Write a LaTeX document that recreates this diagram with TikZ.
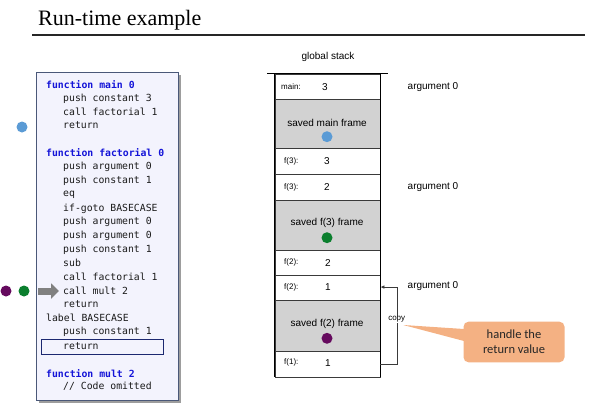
\documentclass[tikz,border=0pt]{standalone}
\usepackage{fontspec}
\setmainfont{Liberation Serif}
\setsansfont{Liberation Sans}
\setmonofont{DejaVu Sans Mono}
\newfontfamily\calloutfont{Carlito}
\usetikzlibrary{arrows.meta,shadows}
\definecolor{codebg}{HTML}{F3F3FD}
\definecolor{codeframe}{HTML}{4A5878}
\definecolor{codetext}{HTML}{1A1A1A}
\definecolor{kwblue}{HTML}{1414D8}
\definecolor{navybox}{HTML}{1C2870}
\definecolor{savedgray}{HTML}{D2D2D2}
\definecolor{rowline}{HTML}{3A3A3A}
\definecolor{dotblue}{HTML}{5B9BD5}
\definecolor{dotgreen}{HTML}{0B7F2E}
\definecolor{dotpurple}{HTML}{650A5E}
\definecolor{calloutfill}{HTML}{F4B183}
\definecolor{arrowgray}{HTML}{808080}
\begin{document}
\begin{tikzpicture}[x=1pt,y=-1pt,
  code/.style={anchor=west,inner sep=0pt,text=codetext,
    font=\ttfamily\fontsize{9.8}{11}\selectfont},
  kw/.style={code,text=kwblue,font=\ttfamily\bfseries\fontsize{9.8}{11}\selectfont},
  cell/.style={draw=rowline,line width=0.7pt,fill=white,minimum width=105pt,
    inner sep=0pt,anchor=north},
  savedcell/.style={cell,fill=savedgray},
  rowlab/.style={anchor=west,inner sep=0pt,font=\sffamily\fontsize{8}{9}\selectfont},
  rowval/.style={inner sep=0pt,font=\sffamily\fontsize{10}{12}\selectfont},
  sans/.style={inner sep=0pt,font=\sffamily\fontsize{10}{12}\selectfont},
  dot/.style={circle,inner sep=0pt,minimum size=11pt},
  wall/.style={line width=1.5pt,black}]
\useasboundingbox (0,0) rectangle (592,416);

% title and rule
\node[anchor=base west,inner sep=0pt,font=\fontsize{22}{26}\selectfont] (title) at (38,25) {Run-time example};
\draw[line width=1.3pt,black!85] (32,35) coordinate (ruleL) -- (585,35) coordinate (ruleR);

% code listing
\node[draw=codeframe,line width=0.8pt,fill=codebg,minimum width=142pt,minimum height=328pt,
  anchor=north west,inner sep=0pt,
  drop shadow={shadow xshift=3pt,shadow yshift=-3pt,opacity=0.55,fill=black!70}] (listing) at (36,72) {};
\node[kw]   (l1)  at (46,85)    {function main 0};
\node[code] (l2)  at (63,98.4)  {push constant 3};
\node[code] (l3)  at (63,111.8) {call factorial 1};
\node[code] (l4)  at (63,125.3) {return};
\node[kw]   (l5)  at (46,152.8) {function factorial 0};
\node[code] (l6)  at (63,167.2) {push argument 0};
\node[code] (l7)  at (63,181)   {push constant 1};
\node[code] (l8)  at (63,194.8) {eq};
\node[code] (l9)  at (63,208.4) {if-goto BASECASE};
\node[code] (l10) at (63,221.9) {push argument 0};
\node[code] (l11) at (63,235.5) {push argument 0};
\node[code] (l12) at (63,249.3) {push constant 1};
\node[code] (l13) at (63,263.2) {sub};
\node[code] (l14) at (63,277.2) {call factorial 1};
\node[code] (l15) at (63,291)   {call mult 2};
\node[code] (l16) at (63,304.4) {return};
\node[code] (l17) at (46,317.8) {label BASECASE};
\node[code] (l18) at (63,332.2) {push constant 1};
\node[code] (l19) at (63,346)   {return};
\node[kw]   (l20) at (46,373.3) {function mult 2};
\node[code] (l21) at (63,386.7) {// Code omitted};
\node[draw=navybox,line width=1pt,minimum width=122pt,minimum height=15pt,inner sep=0pt,
  anchor=north west] (current) at (41,339) {};

% markers beside the listing
\node[dot,fill=dotblue] (mblue) at (22,127) {};
\node[dot,fill=dotpurple] (mpurple) at (6,291) {};
\node[dot,fill=dotgreen] (mgreen) at (24,291) {};
\coordinate (pc) at (38,291);
\draw[arrowgray,line width=7pt,-{Triangle[length=8pt,width=15pt]}] (pc) -- ([xshift=-4pt]l15.west);

% global stack
\node[sans] (gs) at (328,57) {global stack};
\node[cell,minimum height=25.8pt] (m) at (327.5,73.5) {};
\node[savedcell,minimum height=48.7pt] (sm) at (327.5,99.3) {};
\node[cell,minimum height=26pt] (f3a) at (327.5,148) {};
\node[cell,minimum height=26pt] (f3b) at (327.5,174) {};
\node[savedcell,minimum height=50pt] (sf3) at (327.5,200) {};
\node[cell,minimum height=25pt] (f2a) at (327.5,250) {};
\node[cell,minimum height=25pt] (f2b) at (327.5,275) {};
\node[savedcell,minimum height=51pt] (sf2) at (327.5,300) {};
\node[cell,minimum height=25.5pt] (f1) at (327.5,351) {};
\draw[wall] (m.north west) -- (f1.south west);
\draw[wall] (m.north east) -- (f1.south east);
\draw[line width=1.8pt] (267,73.5) coordinate (topL) -- (388,73.5) coordinate (topR);

\node[rowlab] (ml) at (281,86.6) {main:};
\node[rowval] (mv) at (325,86.6) {3};
\node[sans] (smt) at (327,122.7) {saved main frame};
\node[dot,fill=dotblue] (smd) at (327,136.7) {};
\node[rowlab] (f3al) at (284,161) {f(3):};
\node[rowval] (f3av) at (327,161) {3};
\node[rowlab] (f3bl) at (284,187) {f(3):};
\node[rowval] (f3bv) at (327,187) {2};
\node[sans] (sf3t) at (327,223) {saved f(3) frame};
\node[dot,fill=dotgreen] (sf3d) at (327,237.7) {};
\node[rowlab] (f2al) at (284,262.7) {f(2):};
\node[rowval] (f2av) at (328,262.7) {2};
\node[rowlab] (f2bl) at (284,287.5) {f(2):};
\node[rowval] (f2bv) at (328,287.5) {1};
\node[sans] (sf2t) at (327,324) {saved f(2) frame};
\node[dot,fill=dotpurple] (sf2d) at (327,338.3) {};
\node[rowlab] (f1l) at (284,362.8) {f(1):};
\node[rowval] (f1v) at (328,362.8) {1};

% argument labels
\node[sans,anchor=west] (a1) at (407.5,86.7) {argument 0};
\node[sans,anchor=west] (a2) at (407.5,186.7) {argument 0};
\node[sans,anchor=west] (a3) at (407.5,286.3) {argument 0};

% return value copied into the caller's argument slot
\draw[rowline,line width=0.7pt,-{Latex[length=4pt,width=3.5pt]}]
  ([yshift=-0.5pt]f1.east) -- ++(17,0) |- ([yshift=0.8pt]f2b.east);
\node[fill=white,inner sep=0.6pt,font=\sffamily\fontsize{8}{9}\selectfont] (copy) at (396.7,319.3) {copy};

% callout
\fill[calloutfill] (403.3,325) -- (464,329) -- (464,341) -- cycle;
\node[fill=calloutfill,rounded corners=5pt,minimum width=101pt,minimum height=40.6pt,
  inner sep=0pt,align=center,text=black!85,
  font=\calloutfont\fontsize{12.5}{15}\selectfont] (note) at (514,342) {handle the\\return value};
\end{tikzpicture}
\end{document}
